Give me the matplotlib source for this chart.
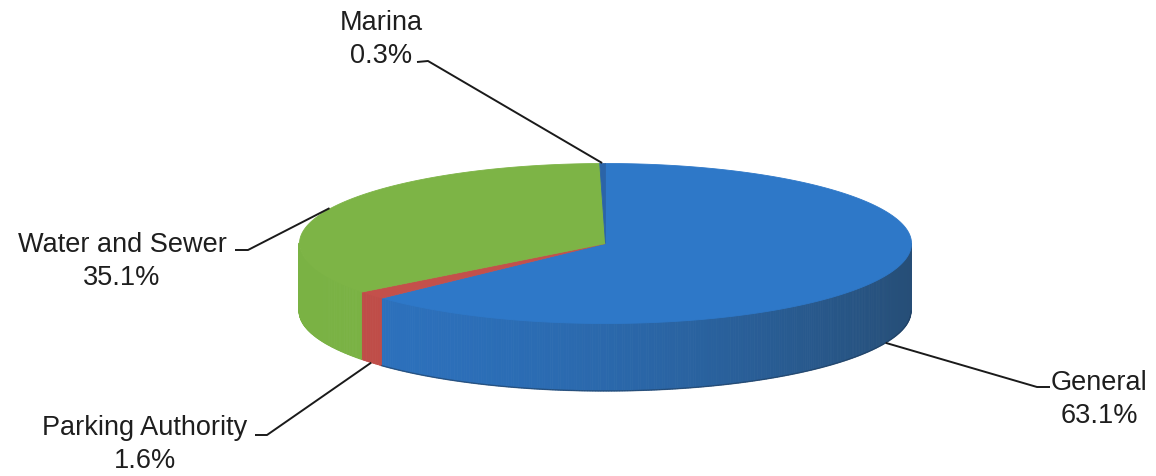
import numpy as np
import matplotlib.pyplot as plt
from matplotlib.collections import PolyCollection
from matplotlib.colors import to_rgb

# Share of total by fund
funds = ["General", "Parking Authority", "Water and Sewer", "Marina"]
shares = [63.1, 1.6, 35.1, 0.3]

# top face / lit side / shadowed side colours for each slice
top_colors = ["#2e78c8", "#c4504b", "#7db446", "#2b64a8"]
side_light = ["#2c71bd", "#c04d48", "#7ab244", "#2a60a0"]
side_dark = ["#264e77", "#8a3531", "#5a8a32", "#22466e"]

# label placement (name baseline) and leader elbows
label_xy = {"General": (1099, 390), "Parking Authority": (145, 435),
            "Water and Sewer": (122, 252), "Marina": (381, 30)}
leader_tail = {"General": ((1050, 387), (1037, 387)),
               "Parking Authority": ((255, 435), (267, 435)),
               "Water and Sewer": ((235, 250), (248, 250)),
               "Marina": ((417, 62), (428, 61))}

# pie geometry in pixel units
cx, cy, rx, ry, depth = 605, 243, 306, 80, 68


def rim(theta, drop=0.0):
    t = np.radians(theta)
    return cx + rx * np.sin(t), cy - ry * np.cos(t) + drop


def mix(c1, c2, s):
    a, b = np.array(to_rgb(c1)), np.array(to_rgb(c2))
    return tuple(a + (b - a) * s)


edges = np.concatenate([[0], np.cumsum(shares)]) / sum(shares) * 360

fig = plt.figure(figsize=(11.56, 4.76), dpi=100)
ax = fig.add_axes([0, 0, 1, 1])
ax.set_xlim(0, 1156)
ax.set_ylim(476, 0)
ax.axis("off")

# outer wall, only the front half (90..270 deg clockwise from top) shows
for i in range(len(shares)):
    lo, hi = max(edges[i], 90), min(edges[i + 1], 270)
    if lo >= hi:
        continue
    ts = np.linspace(lo, hi, max(2, int((hi - lo) / 0.5) + 1))
    quads, cols = [], []
    for t0, t1 in zip(ts[:-1], ts[1:]):
        quads.append([rim(t0), rim(t1), rim(t1, depth), rim(t0, depth)])
        s = (np.sin(np.radians((t0 + t1) / 2)) + 1) / 2
        cols.append(mix(side_light[i], side_dark[i], s ** 2))
    ax.add_collection(PolyCollection(quads, facecolors=cols, edgecolors=cols,
                                     linewidths=0.6, zorder=1))

# thin dark line along the bottom rim of the General wall
tb = np.linspace(90, edges[1], 300)
bx, by = rim(tb, depth)
ax.plot(bx, by, color="#1d3b5c", lw=1.0, alpha=0.6, zorder=2)

# top faces
for i in range(len(shares)):
    ts = np.linspace(edges[i], edges[i + 1], max(3, int((edges[i + 1] - edges[i]) / 0.5) + 1))
    px, py = rim(ts)
    verts = [(cx, cy)] + list(zip(px, py))
    ax.add_collection(PolyCollection([verts], facecolors=top_colors[i],
                                     edgecolors=top_colors[i], linewidths=0.6, zorder=3))

# labels with leader lines
for i, name in enumerate(funds):
    mid = (edges[i] + edges[i + 1]) / 2
    front = np.cos(np.radians(mid)) < 0
    ax_pt = rim(mid, depth if front else 0)
    x, y = label_xy[name]
    ax.text(x, y, name, ha="center", va="baseline", fontsize=19.5,
            family="Liberation Sans", color="#1e1e1e", zorder=5)
    ax.text(x, y + 33, f"{shares[i]:.1f}%", ha="center", va="baseline", fontsize=19.5,
            family="Liberation Sans", color="#1e1e1e", zorder=5)
    p0, p1 = leader_tail[name]
    ax.plot([p0[0], p1[0], ax_pt[0]], [p0[1], p1[1], ax_pt[1]],
            color="#1a1a1a", lw=1.4, zorder=4, solid_capstyle="butt")

fig.savefig("out.png", dpi=100)
